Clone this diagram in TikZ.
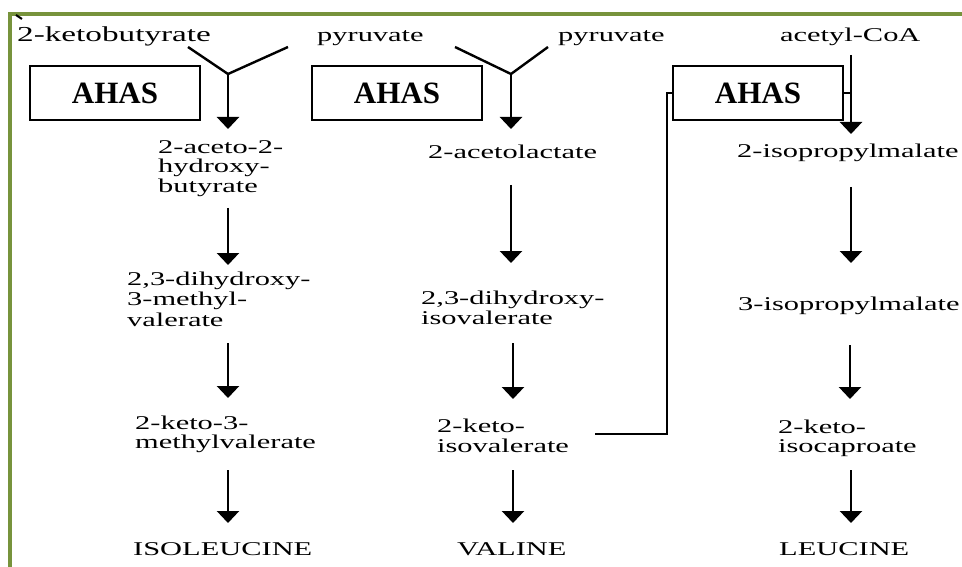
\documentclass[tikz,border=0pt]{standalone}
\usepackage{fontspec}
\setmainfont{Liberation Serif}[FakeStretch=1.56]
\newfontfamily\ahasfont{Liberation Serif}
\usetikzlibrary{arrows.meta}
\definecolor{frame}{HTML}{77933C}
\begin{document}
\begin{tikzpicture}[x=1pt,y=-1pt,
  txt/.style={inner sep=0pt,anchor=north west,align=left,
    font=\fontsize{19.5}{20.5}\selectfont},
  arr/.style={line width=2.6pt,-{Triangle[width=22pt,length=12pt]}},
  arm/.style={line width=2.4pt},
  ahasbox/.style={draw,line width=1.6pt,minimum width=170pt,minimum height=54pt,
    inner sep=0pt,font=\ahasfont\fontsize{31}{31}\selectfont\bfseries},
  inh/.style={line width=2.4pt}]
\useasboundingbox (0,0) rectangle (962,567);
% frame
\draw[frame,line width=3.5pt] (10,567) -- (10,14) -- (962,14);
\draw[line width=2pt] (16,15) -- (22,19);
% top row
\node[txt,font=\fontsize{21.3}{22}\selectfont] (kb) at (17,41-15.4) {\strut 2-ketobutyrate};
\node[txt] (pyr1) at (317,41-14.35) {\strut pyruvate};
\node[txt] (pyr2) at (558,41-14.35) {\strut pyruvate};
\node[txt] (acoa) at (780,41-14.35) {\strut acetyl-CoA};
% AHAS boxes
\node[ahasbox] (ahas1) at (115,93) {AHAS};
\node[ahasbox] (ahas2) at (397,93) {AHAS};
\node[ahasbox] (ahas3) at (758,93) {AHAS};
% Y junctions
\coordinate (a1l) at (188,47); \coordinate (a1r) at (288,47); \coordinate (j1) at (228,74);
\coordinate (a2l) at (455,47); \coordinate (a2r) at (548,47); \coordinate (j2) at (511,74);
\coordinate (t1) at (228,129); \coordinate (t2) at (511,129);
\coordinate (c3s) at (851,55); \coordinate (t3) at (851,134);
\draw[arm] (a1l) -- (j1) -- (a1r);
\draw[arm] (a2l) -- (j2) -- (a2r);
\draw[arr] (j1) -- (t1);
\draw[arr] (j2) -- (t2);
\draw[arr] (c3s) -- (t3);
% row 2
\node[txt,font=\fontsize{19.5}{19.5}\selectfont] (ahb) at (158,153-13.65) {\strut 2-aceto-2-\\hydroxy-\\butyrate};
\node[txt] (al) at (428,158-14.35) {\strut 2-acetolactate};
\node[txt] (ipm2) at (737,157-14.35) {\strut 2-isopropylmalate};
% arrows row2 -> row3
\coordinate (b1s) at (228,208); \coordinate (b1e) at (228,265);
\coordinate (b2s) at (511,185); \coordinate (b2e) at (511,263);
\coordinate (b3s) at (851,187); \coordinate (b3e) at (851,263);
\draw[arr] (b1s) -- (b1e);
\draw[arr] (b2s) -- (b2e);
\draw[arr] (b3s) -- (b3e);
% row 3
\node[txt] (dhmv) at (127,285-14.35) {\strut 2,3-dihydroxy-\\3-methyl-\\valerate};
\node[txt,font=\fontsize{19.5}{19}\selectfont] (dhiv) at (421,304-13.3) {\strut 2,3-dihydroxy-\\isovalerate};
\node[txt] (ipm3) at (738,310-14.35) {\strut 3-isopropylmalate};
% arrows row3 -> row4
\coordinate (c1s) at (228,343); \coordinate (c1e) at (228,398);
\coordinate (c2s) at (513,343); \coordinate (c2e) at (513,399);
\coordinate (c3a) at (850,345); \coordinate (c3e) at (850,399);
\draw[arr] (c1s) -- (c1e);
\draw[arr] (c2s) -- (c2e);
\draw[arr] (c3a) -- (c3e);
% row 4
\node[txt,font=\fontsize{19.5}{19.5}\selectfont] (kmv) at (135,429-13.65) {\strut 2-keto-3-\\methylvalerate};
\node[txt,font=\fontsize{19.5}{18}\selectfont] (kiv) at (437,431-12.6) {\strut 2-keto-\\isovalerate};
\node[txt,font=\fontsize{19.5}{18}\selectfont] (kic) at (778,432-12.6) {\strut 2-keto-\\isocaproate};
% arrows row4 -> row5
\coordinate (d1s) at (228,470); \coordinate (d1e) at (228,523);
\coordinate (d2s) at (513,470); \coordinate (d2e) at (513,523);
\coordinate (d3s) at (851,470); \coordinate (d3e) at (851,523);
\draw[arr] (d1s) -- (d1e);
\draw[arr] (d2s) -- (d2e);
\draw[arr] (d3s) -- (d3e);
% row 5
\node[txt] (ile) at (133,555-14.35) {\strut ISOLEUCINE};
\node[txt] (val) at (457,555-14.35) {\strut VALINE};
\node[txt] (leu) at (779,555-14.35) {\strut LEUCINE};
% feedback line from 2-ketoisovalerate to AHAS (leucine branch)
\coordinate (fb0) at (595,434);
\coordinate (fb1) at (667,434);
\coordinate (fb3) at (851,93);
\draw[inh] (fb0) -- (fb1) |- (ahas3.west);
\draw[inh] (ahas3.east) -- (fb3);
\end{tikzpicture}
\end{document}
